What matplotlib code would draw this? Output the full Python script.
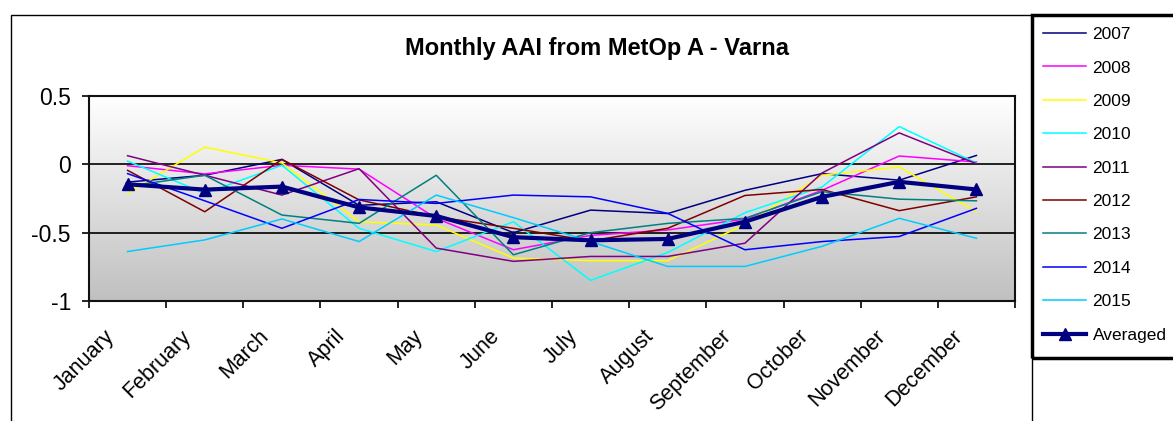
import matplotlib
matplotlib.use("Agg")
import matplotlib.pyplot as plt
import matplotlib.transforms as mtransforms
from matplotlib.colors import LinearSegmentedColormap
from matplotlib.patches import Rectangle
import numpy as np

plt.rcParams['font.family'] = ['Liberation Sans', 'DejaVu Sans']
plt.rcParams['axes.unicode_minus'] = False

# Data
months = ['January', 'February', 'March', 'April', 'May', 'June', 'July',
          'August', 'September', 'October', 'November', 'December']

aai_2007 = [-0.13, -0.08, 0.036, -0.30, -0.274, -0.50, -0.335, -0.36, -0.19, -0.068, -0.116, 0.065]
aai_2008 = [-0.01, -0.07, -0.007, -0.035, -0.395, -0.625, -0.52, -0.48, -0.40, -0.19, 0.061, 0.017]
aai_2009 = [-0.213, 0.126, 0.01, -0.42, -0.444, -0.686, -0.705, -0.705, -0.44, -0.08, -0.019, -0.347]
aai_2010 = [0.024, -0.213, -0.007, -0.468, -0.638, -0.42, -0.849, -0.645, -0.354, -0.165, 0.276, 0.01]
aai_2011 = [0.063, -0.08, -0.225, -0.032, -0.613, -0.71, -0.674, -0.674, -0.577, -0.063, 0.23, 0.005]
aai_2012 = [-0.044, -0.347, 0.036, -0.26, -0.383, -0.468, -0.56, -0.468, -0.228, -0.184, -0.339, -0.238]
aai_2013 = [-0.16, -0.08, -0.371, -0.432, -0.08, -0.662, -0.50, -0.432, -0.395, -0.20, -0.255, -0.267]
aai_2014 = [-0.068, -0.267, -0.468, -0.257, -0.286, -0.225, -0.238, -0.359, -0.625, -0.565, -0.528, -0.322]
aai_2015 = [-0.638, -0.553, -0.40, -0.565, -0.225, -0.39, -0.565, -0.747, -0.747, -0.60, -0.395, -0.541]
averaged = [-0.146, -0.185, -0.163, -0.315, -0.378, -0.533, -0.556, -0.546, -0.42, -0.238, -0.128, -0.184]

years = ['2007', '2008', '2009', '2010', '2011', '2012', '2013', '2014', '2015']
series = [aai_2007, aai_2008, aai_2009, aai_2010, aai_2011, aai_2012, aai_2013, aai_2014, aai_2015]
colors = ['#000080', '#FF00FF', '#FFFF00', '#00FFFF', '#800080', '#800000',
          '#008080', '#0000FF', '#00CCFF']

W, H = 1173, 421
fig = plt.figure(figsize=(W / 100, H / 100), dpi=100)

# outer chart border and legend box (pixel positions converted to figure fraction)
fig.patches.append(Rectangle((11 / W, -0.1), (1032 - 11) / W, 1 - 15 / H + 0.1,
                             transform=fig.transFigure, fill=False,
                             edgecolor='black', linewidth=1.0))
fig.patches.append(Rectangle((1032 / W, 1 - 358 / H), 0.2, (358 - 15) / H,
                             transform=fig.transFigure, fill=False,
                             edgecolor='black', linewidth=2.5))

ax = fig.add_axes([89 / W, 1 - 301 / H, (1015 - 89) / W, (301 - 96) / H])

# grey gradient background
cmap = LinearSegmentedColormap.from_list('bg', ['#C0C0C0', '#FFFFFF'])
grad = np.linspace(0, 1, 256).reshape(-1, 1)
ax.imshow(grad, cmap=cmap, extent=[0, 1, 0, 1], transform=ax.transAxes,
          aspect='auto', origin='lower', zorder=0)

x = np.arange(len(months))
for vals, lab, col in zip(series, years, colors):
    ax.plot(x, vals, color=col, linewidth=1.1, label=lab, zorder=3)
ax.plot(x, averaged, color='#000080', linewidth=3.0, marker='^', markersize=9,
        label='Averaged', zorder=4)

ax.set_xlim(-0.5, 11.5)
ax.set_ylim(-1, 0.5)
ax.set_yticks([0.5, 0, -0.5, -1], ['0.5', '0', '-0.5', '-1'])
for yv in [0, -0.5]:
    ax.axhline(yv, color='black', linewidth=1.2, zorder=2)

ax.set_xticks(x, months)
ax.set_xticks(np.arange(-0.5, 12, 1), minor=True)
ax.tick_params(axis='x', which='major', length=0, pad=18, labelsize=15.5)
ax.tick_params(axis='x', which='minor', length=5, width=1.2, direction='out')
ax.tick_params(axis='y', length=5, width=1.2, pad=8, labelsize=16.5)
offset = mtransforms.ScaledTranslation(-24 / 100, 0, fig.dpi_scale_trans)
for lbl in ax.get_xticklabels():
    lbl.set_rotation(45)
    lbl.set_ha('right')
    lbl.set_va('top')
    lbl.set_rotation_mode('anchor')
    lbl.set_transform(lbl.get_transform() + offset)

for sp in ax.spines.values():
    sp.set_linewidth(1.5)
    sp.set_color('#111111')

fig.text(597 / W, 1 - 48 / H, 'Monthly AAI from MetOp A - Varna',
         ha='center', va='center', fontsize=17, fontweight='bold')

handles, labels = ax.get_legend_handles_labels()
fig.legend(handles, labels, loc='upper left', bbox_to_anchor=(1043 / W, 1 - 27 / H),
           frameon=False, fontsize=12.5, handlelength=2.5, handletextpad=0.35,
           labelspacing=1.05, borderpad=0, borderaxespad=0)

fig.savefig('out.png', dpi=100)
